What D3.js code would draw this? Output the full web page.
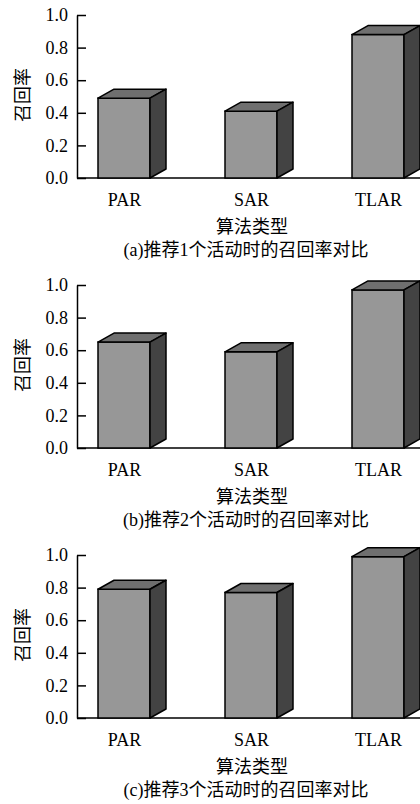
<!DOCTYPE html>
<html>
<head>
<meta charset="utf-8">
<script src="https://cdn.jsdelivr.net/npm/d3@7/dist/d3.min.js"></script>
<style>
  html, body { margin: 0; padding: 0; background: #fff; }
  svg text { font-family: "Liberation Serif", "Times New Roman", "Noto Sans CJK SC", serif; fill: #000; }
</style>
</head>
<body>
<svg id="chart" width="420" height="804"></svg>
<script>
// ---- data ----------------------------------------------------------------
const categories = ['PAR', 'SAR', 'TLAR'];
const recallTop1 = [0.49, 0.41, 0.88];
const recallTop2 = [0.65, 0.59, 0.97];
const recallTop3 = [0.79, 0.77, 0.99];
const yTicks = [0, 0.2, 0.4, 0.6, 0.8, 1.0];
const xTitle = '算法类型';
const yTitle = '召回率';
const captions = [
    '(a)推荐1个活动时的召回率对比',
    '(b)推荐2个活动时的召回率对比',
    '(c)推荐3个活动时的召回率对比'
];
const panels = [recallTop1, recallTop2, recallTop3];

// ---- layout --------------------------------------------------------------
const panelH = 270;
const margin = { left: 77, top: 15 };
const plotW = 420 - margin.left;
const plotH = 163;
const barW = 52;
const depthX = 16, depthY = 9;

const COLORS = { front: '#979797', top: '#6f6f6f', side: '#434343' };

const svg = d3.select('#chart');

const x = d3.scalePoint().domain(categories).range([47, 301]);
const y = d3.scaleLinear().domain([0, 1]).range([plotH, 0]);

panels.forEach((values, i) => {
    const g = svg.append('g')
        .attr('transform', `translate(${margin.left},${margin.top + i * panelH})`);

    // y axis with inward ticks
    const yAxis = g.append('g')
        .call(d3.axisLeft(y).tickValues(yTicks).tickFormat(d3.format('.1f'))
            .tickSizeInner(-9).tickSizeOuter(0).tickPadding(9));
    yAxis.selectAll('path, line').attr('stroke', '#000').attr('stroke-width', 1.5);
    yAxis.selectAll('text').style('font-size', '18px').attr('fill', '#000');

    // baseline
    g.append('line')
        .attr('x1', 0).attr('x2', plotW)
        .attr('y1', y(0)).attr('y2', y(0))
        .attr('stroke', '#000').attr('stroke-width', 1.5);

    // category labels
    const xAxis = g.append('g')
        .attr('transform', `translate(0,${y(0)})`)
        .call(d3.axisBottom(x).tickSize(0).tickPadding(15));
    xAxis.select('.domain').remove();
    xAxis.selectAll('text').style('font-size', '18px').attr('fill', '#000');

    // 3D bars
    const bars = g.selectAll('.bar')
        .data(categories.map((c, j) => ({ cat: c, v: values[j] })))
        .join('g')
        .attr('class', 'bar');

    bars.append('rect')
        .attr('x', d => x(d.cat) - barW / 2)
        .attr('y', d => y(d.v))
        .attr('width', barW)
        .attr('height', d => y(0) - y(d.v))
        .attr('fill', COLORS.front)
        .attr('stroke', '#000').attr('stroke-width', 1.5);

    bars.append('path')
        .attr('d', d => {
            const x0 = x(d.cat) - barW / 2, x1 = x0 + barW, yt = y(d.v);
            return `M${x0},${yt}L${x0 + depthX},${yt - depthY}L${x1 + depthX},${yt - depthY}L${x1},${yt}Z`;
        })
        .attr('fill', COLORS.top)
        .attr('stroke', '#000').attr('stroke-width', 1.5).attr('stroke-linejoin', 'round');

    bars.append('path')
        .attr('d', d => {
            const x1 = x(d.cat) + barW / 2, yt = y(d.v), yb = y(0);
            return `M${x1},${yt}L${x1 + depthX},${yt - depthY}L${x1 + depthX},${yb - depthY}L${x1},${yb}Z`;
        })
        .attr('fill', COLORS.side)
        .attr('stroke', '#000').attr('stroke-width', 1.5).attr('stroke-linejoin', 'round');

    // y title (rotated)
    g.append('text')
        .attr('transform', `translate(${23 - margin.left},${80}) rotate(-90)`)
        .attr('text-anchor', 'middle')
        .attr('dy', '0.35em')
        .style('font-size', '18px')
        .text(yTitle);

    // x title
    g.append('text')
        .attr('x', 252 - margin.left)
        .attr('y', y(0) + 55)
        .attr('text-anchor', 'middle')
        .style('font-size', '18px')
        .text(xTitle);

    // caption
    g.append('text')
        .attr('x', 246 - margin.left)
        .attr('y', y(0) + 78)
        .attr('text-anchor', 'middle')
        .style('font-size', '18px')
        .text(captions[i]);
});
</script>
</body>
</html>
